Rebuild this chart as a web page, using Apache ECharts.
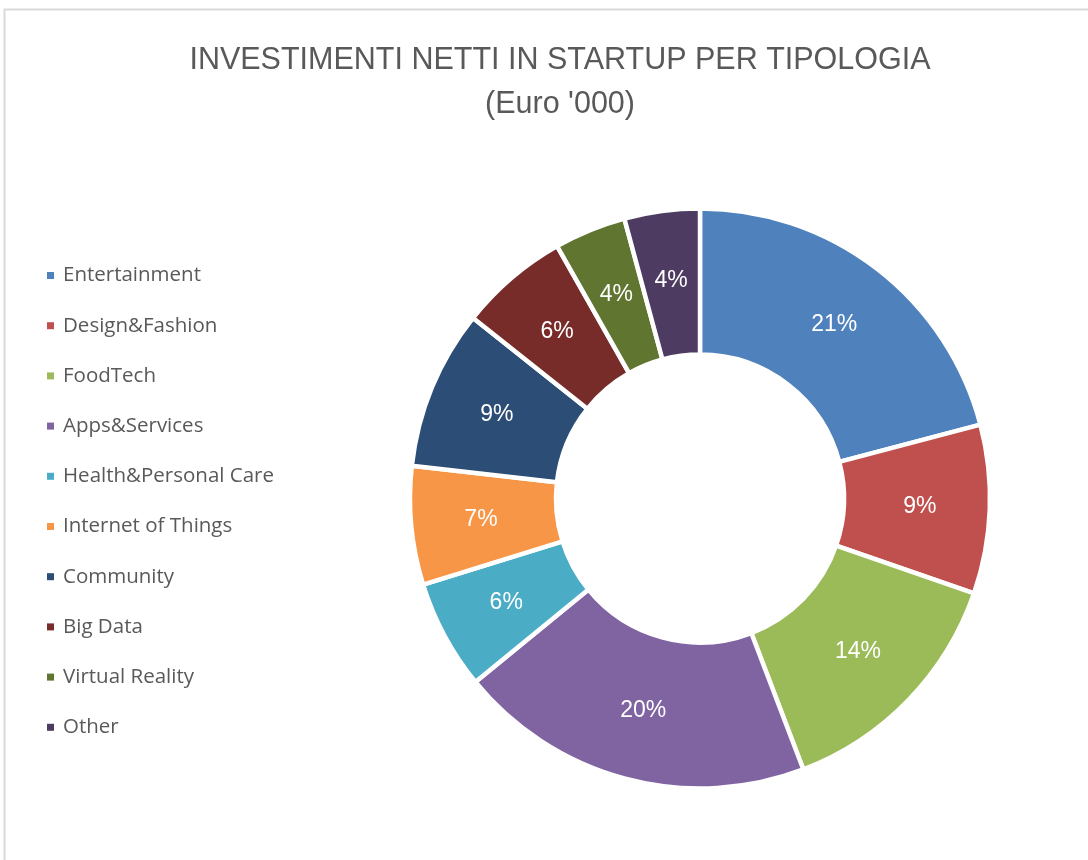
<!DOCTYPE html>
<html>
<head>
<meta charset="utf-8">
<script src="https://cdn.jsdelivr.net/npm/echarts@6/dist/echarts.min.js"></script>
<style>
html,body{margin:0;padding:0;background:#fff;}
#chart{width:1088px;height:860px;}
</style>
</head>
<body>
<div id="chart"></div>
<script>
const titleLines = ["INVESTIMENTI NETTI IN STARTUP PER TIPOLOGIA", "(Euro '000)"];
const categories = ["Entertainment", "Design&Fashion", "FoodTech", "Apps&Services", "Health&Personal Care", "Internet of Things", "Community", "Big Data", "Virtual Reality", "Other"];
const values = [20.9, 9.4, 13.9, 19.9, 6.1, 6.6, 8.9, 6.1, 4.0, 4.2];
const colors = ["#4F81BD", "#C0504D", "#9BBB59", "#8064A2", "#4BACC6", "#F79646", "#2C4D75", "#772C2A", "#5F7530", "#4D3B62"];

const chart = echarts.init(document.getElementById('chart'));
chart.setOption({
  backgroundColor: '#ffffff',
  animation: false,
  color: colors,
  graphic: [{
    type: 'rect',
    shape: { x: 4.5, y: 9.5, width: 1200, height: 1000 },
    style: { fill: 'none', stroke: '#d9d9d9', lineWidth: 2 },
    silent: true
  }],
  title: {
    text: titleLines.join('\n'),
    left: 555,
    top: 34,
    textAlign: 'center',
    textStyle: {
      fontFamily: '"Liberation Sans", sans-serif',
      fontSize: 30.5,
      fontWeight: 'normal',
      color: '#595959',
      lineHeight: 44
    }
  },
  legend: {
    orient: 'vertical',
    left: 47,
    top: 265,
    padding: 0,
    icon: 'rect',
    itemWidth: 7,
    itemHeight: 7,
    itemGap: 29.2,
    itemStyle: { borderWidth: 0 },
    data: categories,
    textStyle: {
      fontFamily: '"Open Sans", sans-serif',
      fontSize: 20.5,
      color: '#595959',
      lineHeight: 20,
      padding: [0, 0, 0, 4]
    }
  },
  series: [{
    type: 'pie',
    center: [700, 498.5],
    radius: [144, 290],
    startAngle: 90,
    clockwise: true,
    avoidLabelOverlap: false,
    itemStyle: { borderColor: '#ffffff', borderWidth: 4.5 },
    label: {
      show: true,
      position: 'inside',
      color: '#ffffff',
      fontFamily: '"Liberation Sans", Arial, sans-serif',
      fontSize: 23,
      formatter: function (p) { return Math.round(p.percent) + '%'; }
    },
    labelLine: { show: false },
    emphasis: { disabled: true },
    data: categories.map((c, i) => ({ name: c, value: values[i] }))
  }]
});
</script>
</body>
</html>
